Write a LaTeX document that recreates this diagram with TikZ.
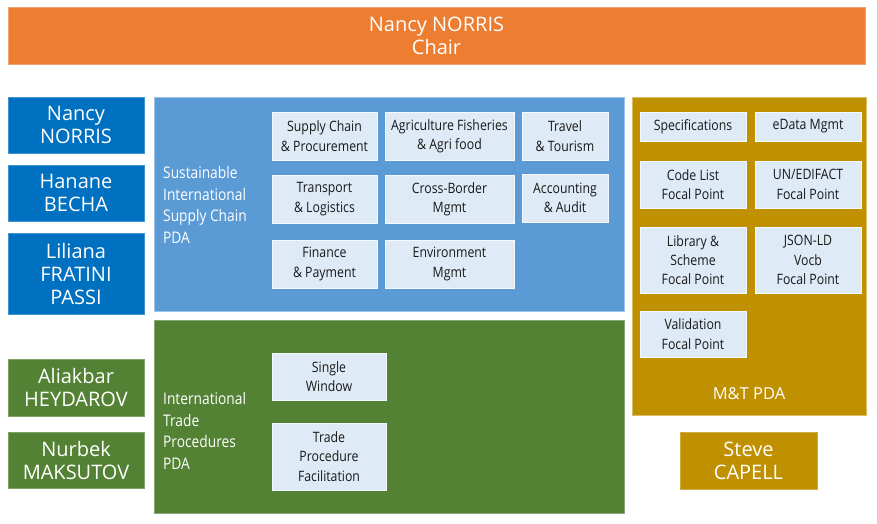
\documentclass[tikz,border=0pt]{standalone}
\usepackage{fontspec}
\setmainfont{Open Sans}
\newfontfamily\condfont[FakeStretch=0.86]{Open Sans}
\definecolor{cOrange}{HTML}{ED7D31}
\definecolor{cBlueD}{HTML}{0070C0}
\definecolor{cBlueL}{HTML}{5B9BD5}
\definecolor{cGreen}{HTML}{548235}
\definecolor{cGold}{HTML}{BF9000}
\definecolor{cInner}{HTML}{DEEBF7}
\begin{document}
\begin{tikzpicture}[x=1pt,y=-1pt,
  blk/.style={rectangle, inner sep=0pt, align=center, text=white, line width=0.7pt},
  orangebox/.style={blk, fill=cOrange, draw=cOrange!70!white, font=\fontsize{20}{23}\selectfont},
  namebox/.style={blk, font=\fontsize{20}{23}\selectfont, minimum width=136pt},
  bluename/.style={namebox, fill=cBlueD, draw=cBlueD!75!white},
  greenname/.style={namebox, fill=cGreen, draw=cGreen!75!white},
  goldname/.style={namebox, fill=cGold, draw=cGold!75!white},
  pda/.style={blk},
  pdalabel/.style={inner sep=0pt, align=left, text=white, anchor=west, font=\condfont\fontsize{16}{21.6}\selectfont},
  inner/.style={rectangle, inner sep=0pt, align=center, fill=cInner, draw=white!70!cInner, line width=0.6pt, text=black!90, font=\condfont\fontsize{14.3}{19.3}\selectfont}
]
\useasboundingbox (0,0) rectangle (877,523);
% chair
\node[orangebox, minimum width=857pt, minimum height=57pt] (chair) at (436.5,35.5) {Nancy NORRIS\\Chair};
% names
\node[bluename, minimum height=56pt] (n1) at (76,125) {Nancy\\NORRIS};
\node[bluename, minimum height=56pt] (n2) at (76,193) {Hanane\\BECHA};
\node[bluename, minimum height=81pt] (n3) at (76,273.5) {Liliana\\FRATINI\\PASSI};
\node[greenname, minimum height=57pt] (n4) at (76,387.5) {Aliakbar\\HEYDAROV};
\node[greenname, minimum height=56pt] (n5) at (76,460) {Nurbek\\MAKSUTOV};
\node[goldname, minimum width=137pt, minimum height=57pt] (steve) at (748.5,460.5) {Steve\\CAPELL};
% PDA panels
\node[pda, fill=cBlueL, draw=cBlueL!60!white, minimum width=470pt, minimum height=214pt] (scpda) at (389,204) {};
\node[pda, fill=cGreen, draw=cGreen!70!white, minimum width=470pt, minimum height=193pt] (itpda) at (389,416.5) {};
\node[pda, fill=cGold, draw=cGold!60!white, minimum width=234pt, minimum height=318pt] (mtpda) at (749,256) {};
\node[pdalabel] (sclabel) at (163,205) {Sustainable\\International\\Supply Chain\\PDA};
\node[pdalabel] (itlabel) at (163,431) {International\\Trade\\Procedures\\PDA};
\node[inner sep=0pt, text=white, font=\fontsize{16.5}{20}\selectfont] (mtlabel) at (749,394) {M\&T PDA};
% SC PDA inner boxes
\node[inner, minimum width=105pt, minimum height=48pt] (sc1) at (324.5,136) {Supply Chain\\\& Procurement};
\node[inner, minimum width=129pt, minimum height=48pt] (sc2) at (449.5,136) {Agriculture Fisheries\\\& Agri food};
\node[inner, minimum width=86pt, minimum height=48pt] (sc3) at (565,136) {Travel\\\& Tourism};
\node[inner, minimum width=105pt, minimum height=48pt] (sc4) at (324.5,199) {Transport\\\& Logistics};
\node[inner, minimum width=129pt, minimum height=48pt] (sc5) at (449.5,199) {Cross-Border\\Mgmt};
\node[inner, minimum width=86pt, minimum height=48pt] (sc6) at (565,198) {Accounting\\\& Audit};
\node[inner, minimum width=105pt, minimum height=48pt] (sc7) at (324.5,264) {Finance\\\& Payment};
\node[inner, minimum width=129pt, minimum height=48pt] (sc8) at (449.5,264) {Environment\\Mgmt};
% ITP inner boxes
\node[inner, minimum width=114pt, minimum height=47pt] (it1) at (329,376.5) {Single\\Window};
\node[inner, minimum width=114pt, minimum height=67pt] (it2) at (329,456.5) {Trade\\Procedure\\Facilitation};
% M&T inner boxes
\node[inner, minimum width=106pt, minimum height=29pt] (mt1) at (693,126.5) {Specifications};
\node[inner, minimum width=106pt, minimum height=29pt] (mt2) at (808,126.5) {eData Mgmt};
\node[inner, minimum width=106pt, minimum height=47pt] (mt3) at (693,184.5) {Code List\\Focal Point};
\node[inner, minimum width=106pt, minimum height=47pt] (mt4) at (808,184.5) {UN/EDIFACT\\Focal Point};
\node[inner, minimum width=106pt, minimum height=66pt] (mt5) at (693,260) {Library \&\\Scheme\\Focal Point};
\node[inner, minimum width=106pt, minimum height=66pt] (mt6) at (808,260) {JSON-LD\\Vocb\\Focal Point};
\node[inner, minimum width=106pt, minimum height=46pt] (mt7) at (693,334) {Validation\\Focal Point};
\end{tikzpicture}
\end{document}
